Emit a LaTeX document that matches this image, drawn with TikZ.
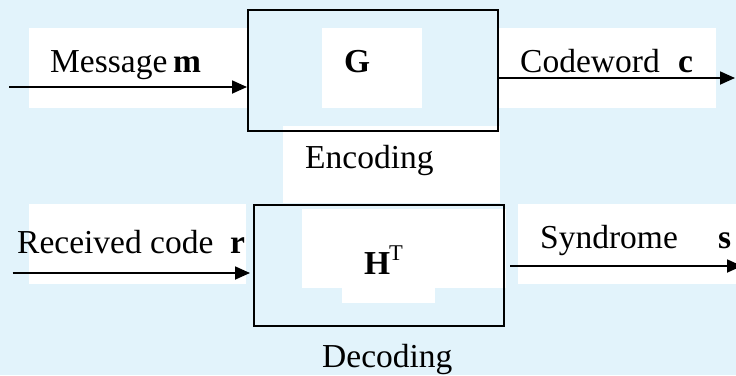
\documentclass[tikz,border=0pt]{standalone}
\usepackage{fontspec}
\setmainfont{Liberation Serif}
\usetikzlibrary{arrows.meta}
\definecolor{paleblue}{HTML}{E2F3FB}
\newcommand{\lblfont}{\fontsize{33.5}{40}\selectfont}
\newcommand{\supfont}{\fontsize{22.5}{27}\selectfont}
\begin{document}
\begin{tikzpicture}[x=1pt,y=-1pt,
  patch/.style={fill=white,draw=none},
  blk/.style={draw,line width=2pt,minimum width=250pt,minimum height=121pt,inner sep=0pt},
  arr/.style={-{Triangle[length=15pt,width=13pt]},line width=1.8pt},
  lbl/.style={anchor=base west,inner sep=0pt,font=\lblfont},
  sup/.style={anchor=base west,inner sep=0pt,font=\supfont}]
% canvas
\fill[paleblue] (0,0) rectangle (736,375);
\useasboundingbox (0,0) rectangle (736,375);

% white backdrops behind the labels
\fill[patch] (29,28) rectangle (247,108);
\fill[patch] (322,28) rectangle (422,108);
\fill[patch] (499,28) rectangle (716,108);
\fill[patch] (283,126) rectangle (500,203);
\fill[patch] (29,204) rectangle (246,284);
\fill[patch] (302,209) rectangle (506,288);
\fill[patch] (342,288) rectangle (435,303);
\fill[patch] (518,204) rectangle (736,284);

% encoder and decoder blocks
\node[blk] (enc) at (373,70.5) {};
\node[blk] (dec) at (379,265) {};

% labels
\node[lbl] (tmsg) at (50,72) {Message};
\node[lbl] (tm) at (173,72) {\textbf{m}};
\node[lbl] (tG) at (344,72) {\textbf{G}};
\node[lbl] (tcw) at (520,72) {Codeword};
\node[lbl] (tc) at (678,72) {\textbf{c}};
\node[lbl] (tenc) at (305,168) {Encoding};
\node[lbl] (trc) at (17,253) {Received code};
\node[lbl] (tr) at (230,253) {\textbf{r}};
\node[lbl] (tH) at (364,274) {\textbf{H}};
\node[sup] (tT) at (389,260) {T};
\node[lbl] (tsyn) at (540,248) {Syndrome};
\node[lbl] (ts) at (718,248) {\textbf{s}};
\node[lbl] (tdec) at (322,367) {Decoding};

% connectors
\coordinate (min) at (9,87);
\coordinate (cout) at (735,78);
\coordinate (rin) at (12.7,273);
\coordinate (sout) at (742,266);
\draw[arr] (min) -- (min -| enc.west);
\draw[arr] (enc.east |- cout) -- (cout);
\draw[arr,shorten >=3pt] (rin) -- (rin -| dec.west);
\draw[arr,shorten <=5pt] (dec.east |- sout) -- (sout);
\end{tikzpicture}
\end{document}
